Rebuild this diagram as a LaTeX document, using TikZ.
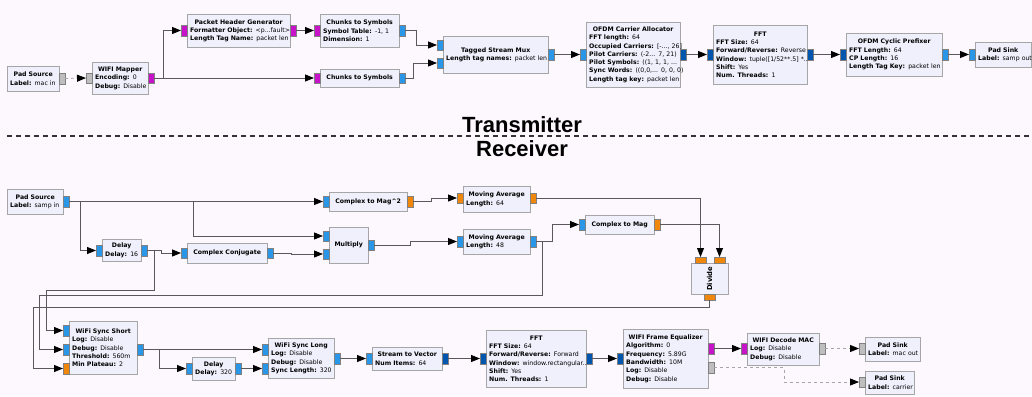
\documentclass[tikz,border=0pt]{standalone}
\usepackage{fontspec}
\setmainfont{DejaVu Sans}
\newfontfamily\headfont{Liberation Sans}
\usetikzlibrary{arrows.meta}
\definecolor{bgc}{RGB}{253,248,253}
\definecolor{blkfill}{RGB}{240,240,253}
\definecolor{cpxc}{RGB}{42,150,232}
\definecolor{vecc}{RGB}{0,85,175}
\definecolor{fltc}{RGB}{240,135,10}
\definecolor{bytc}{RGB}{200,20,200}
\definecolor{msgc}{RGB}{190,190,190}
\newcommand{\hd}[1]{\makebox[\hsize][c]{\bfseries #1}}
\newcommand{\kv}[2]{\mbox{\textbf{#1:} #2}}
\begin{document}
\begin{tikzpicture}[x=1pt, y=-1pt,
    blk/.style={draw=black!35, fill=blkfill, anchor=north west, inner xsep=3pt, inner ysep=0pt, align=left, font=\fontsize{6.2}{8.3}\selectfont},
    pin/.style={draw=black!50, minimum width=6pt, minimum height=10.5pt, inner sep=0pt, outer sep=0pt},
    pcx/.style={pin, fill=cpxc}, pvc/.style={pin, fill=vecc}, pfl/.style={pin, fill=fltc},
    pby/.style={pin, fill=bytc}, pms/.style={pin, fill=msgc},
    wire/.style={draw=black!65, line width=0.8pt, -{Triangle[length=9pt,width=7pt,color=black]}},
    mwire/.style={wire, draw=black!35, dashed}]
        \useasboundingbox (0,0) rectangle (1032,396);
        \fill[bgc] (0,0) rectangle (1032,396);

        \node[blk, text width=46, minimum height=25] (srcT) at (7,66) {\hd{Pad Source}\\\kv{Label}{mac in}};
        \node[blk, text width=50, minimum height=32] (map) at (92,62) {\hd{WIFI Mapper}\\\kv{Encoding}{0}\\\kv{Debug}{Disable}};
        \node[blk, text width=97, minimum height=33] (phg) at (187,14) {\hd{Packet Header Generator}\\\kv{Formatter Object}{<p...fault>}\\\kv{Length Tag Name}{packet len}};
        \node[blk, text width=73, minimum height=33] (cts1) at (320,14) {\hd{Chunks to Symbols}\\\kv{Symbol Table}{-1, 1}\\\kv{Dimension}{1}};
        \node[blk, text width=73, minimum height=18] (cts2) at (320,69) {\hd{Chunks to Symbols}};
        \node[blk, text width=99, minimum height=37] (mux) at (443,36) {\hd{Tagged Stream Mux}\\\kv{Length tag names}{packet len}};
        \node[blk, text width=88, minimum height=65] (alloc) at (586,22) {\hd{OFDM Carrier Allocator}\\\kv{FFT length}{64}\\\kv{Occupied Carriers}{[-..., 26]}\\\kv{Pilot Carriers}{(-2... 7, 21)}\\\kv{Pilot Symbols}{((1, 1, 1, ...}\\\kv{Sync Words}{((0,0,... 0, 0, 0)}\\\kv{Length tag key}{packet len}};
        \node[blk, text width=88, minimum height=59] (fftT) at (713,25) {\hd{FFT}\\\kv{FFT Size}{64}\\\kv{Forward/Reverse}{Reverse}\\\kv{Window}{tuple([1/52**.5] *...}\\\kv{Shift}{Yes}\\\kv{Num. Threads}{1}};
        \node[blk, text width=90, minimum height=43] (cp) at (846,33) {\hd{OFDM Cyclic Prefixer}\\\kv{FFT Length}{64}\\\kv{CP Length}{16}\\\kv{Length Tag Key}{packet len}};
        \node[blk, text width=50, minimum height=25] (snkT) at (975,42) {\hd{Pad Sink}\\\kv{Label}{samp out}};

        \node[pms] (srcTo) at (62,78.5) {};
        \node[pms] (mapi) at (89,78) {};
        \node[pby] (mapo) at (151,78) {};
        \node[pby] (phgi) at (184,30.5) {};
        \node[pby] (phgo) at (293,30.5) {};
        \node[pby] (cts1i) at (317,30.5) {};
        \node[pcx] (cts1o) at (402,30.5) {};
        \node[pby] (cts2i) at (317,78) {};
        \node[pcx] (cts2o) at (402,78) {};
        \node[pcx] (muxi0) at (440,45) {};
        \node[pcx] (muxi1) at (440,63) {};
        \node[pcx] (muxo) at (551,54.5) {};
        \node[pcx] (alloci) at (583,54.5) {};
        \node[pvc] (alloco) at (683,54.5) {};
        \node[pvc] (fftTi) at (710,54.5) {};
        \node[pvc] (fftTo) at (810,54.5) {};
        \node[pvc] (cpi) at (843,54.5) {};
        \node[pcx] (cpo) at (945,54.5) {};
        \node[pcx] (snkTi) at (972,54.5) {};

        \draw[mwire] (srcTo.east) -- (mapi.west);
        \draw[wire] (mapo.east) -- +(9,0) |- (phgi.west);
        \draw[wire] (mapo.east) -- (cts2i.west);
        \draw[wire] (phgo.east) -- (cts1i.west);
        \draw[wire] (cts1o.east) -- +(11,0) |- (muxi0.west);
        \draw[wire] (cts2o.east) -- +(8,0) |- (muxi1.west);
        \draw[wire] (muxo.east) -- (alloci.west);
        \draw[wire] (alloco.east) -- (fftTi.west);
        \draw[wire] (fftTo.east) -- (cpi.west);
        \draw[wire] (cpo.east) -- (snkTi.west);

        \draw[black!80, line width=1.5pt, dash pattern=on 5pt off 4pt] (7,136) -- (1032,136);
        \node[font=\headfont\fontsize{22}{22}\selectfont\bfseries, anchor=base] (tx) at (522,132) {Transmitter};
        \node[font=\headfont\fontsize{22}{22}\selectfont\bfseries, anchor=base] (rx) at (522,156) {Receiver};

        \node[blk, text width=50, minimum height=25] (srcR) at (7,189) {\hd{Pad Source}\\\kv{Label}{samp in}};
        \node[blk, text width=72, minimum height=19] (mag2) at (329,192) {\hd{Complex to Mag\textasciicircum 2}};
        \node[blk, text width=61, minimum height=26] (ma64) at (463,186) {\hd{Moving Average}\\\kv{Length}{64}};
        \node[blk, text width=33, minimum height=22] (dl16) at (102,239) {\hd{Delay}\\\kv{Delay}{16}};
        \node[blk, text width=74, minimum height=20] (cc) at (187,243) {\hd{Complex Conjugate}};
        \node[blk, text width=33, minimum height=36] (mul) at (329,227) {\hd{Multiply}};
        \node[blk, text width=61, minimum height=25] (ma48) at (463,229) {\hd{Moving Average}\\\kv{Length}{48}};
        \node[blk, text width=63, minimum height=19] (mag) at (585,215) {\hd{Complex to Mag}};
        \node[blk, minimum width=37, minimum height=31, label={[rotate=90, font=\fontsize{6.8}{8}\selectfont\bfseries]center:Divide}] (dv) at (691,263) {};
        \node[blk, text width=62, minimum height=53] (ss) at (69,321) {\hd{WiFi Sync Short}\\\kv{Log}{Disable}\\\kv{Debug}{Disable}\\\kv{Threshold}{560m}\\\kv{Min Plateau}{2}};
        \node[blk, text width=37, minimum height=23] (d320) at (192,357) {\hd{Delay}\\\kv{Delay}{320}};
        \node[blk, text width=60, minimum height=40] (sl) at (268,338) {\hd{WiFi Sync Long}\\\kv{Log}{Disable}\\\kv{Debug}{Disable}\\\kv{Sync Length}{320}};
        \node[blk, text width=64, minimum height=23] (s2v) at (372,347) {\hd{Stream to Vector}\\\kv{Num Items}{64}};
        \node[blk, text width=94, minimum height=57] (fftR) at (486,330) {\hd{FFT}\\\kv{FFT Size}{64}\\\kv{Forward/Reverse}{Forward}\\\kv{Window}{window.rectangular...}\\\kv{Shift}{Yes}\\\kv{Num. Threads}{1}};
        \node[blk, text width=79, minimum height=59] (eq) at (623,329) {\hd{WIFI Frame Equalizer}\\\kv{Algorithm}{0}\\\kv{Frequency}{5.89G}\\\kv{Bandwidth}{10M}\\\kv{Log}{Disable}\\\kv{Debug}{Disable}};
        \node[blk, text width=66, minimum height=32] (dec) at (747,333) {\hd{WIFI Decode MAC}\\\kv{Log}{Disable}\\\kv{Debug}{Disable}};
        \node[blk, text width=49, minimum height=24] (snkM) at (865,337) {\hd{Pad Sink}\\\kv{Label}{mac out}};
        \node[blk, text width=43, minimum height=23] (snkC) at (865,371) {\hd{Pad Sink}\\\kv{Label}{carrier}};

        \node[pcx] (srcRo) at (66,201.5) {};
        \node[pcx] (mag2i) at (326,201.5) {};
        \node[pfl] (mag2o) at (410,201.5) {};
        \node[pfl] (ma64i) at (460,198) {};
        \node[pfl] (ma64o) at (533,198) {};
        \node[pcx] (dl16i) at (99,250.5) {};
        \node[pcx] (dl16o) at (144,250.5) {};
        \node[pcx] (cci) at (184,253) {};
        \node[pcx] (cco) at (270,253) {};
        \node[pcx] (muli0) at (326,236) {};
        \node[pcx] (muli1) at (326,254) {};
        \node[pcx] (mulo) at (371,245) {};
        \node[pcx] (ma48i) at (460,241.5) {};
        \node[pcx] (ma48o) at (533,241.5) {};
        \node[pcx] (magi) at (582,224.5) {};
        \node[pfl] (mago) at (657,224.5) {};
        \node[pfl, minimum width=10.5pt, minimum height=6pt] (dvi0) at (700.5,260) {};
        \node[pfl, minimum width=10.5pt, minimum height=6pt] (dvi1) at (719.5,260) {};
        \node[pfl, minimum width=10.5pt, minimum height=6pt] (dvo) at (709.5,297) {};
        \node[pcx] (ssi0) at (66,330.5) {};
        \node[pcx] (ssi1) at (66,349.5) {};
        \node[pfl] (ssi2) at (66,368.5) {};
        \node[pcx] (sso) at (140,349.5) {};
        \node[pcx] (d320i) at (189,368.5) {};
        \node[pcx] (d320o) at (238,368.5) {};
        \node[pcx] (sli0) at (265,349.5) {};
        \node[pcx] (sli1) at (265,368.5) {};
        \node[pcx] (slo) at (337,358.5) {};
        \node[pcx] (s2vi) at (369,358.5) {};
        \node[pvc] (s2vo) at (445,358.5) {};
        \node[pvc] (fftRi) at (483,358.5) {};
        \node[pvc] (fftRo) at (589,358.5) {};
        \node[pvc] (eqi) at (620,358.5) {};
        \node[pby] (eqo0) at (711,348.5) {};
        \node[pms] (eqo1) at (711,367.5) {};
        \node[pby] (deci) at (744,348.5) {};
        \node[pms] (deco) at (822,348.5) {};
        \node[pms] (snkMi) at (862,348.5) {};
        \node[pms] (snkCi) at (862,382) {};

        \draw[wire] (srcRo.east) -- (mag2i.west);
        \draw[wire] (srcRo.east) -- +(124,0) |- (muli0.west);
        \draw[wire] (srcRo.east) -- +(11,0) |- (dl16i.west);
        \draw[wire] (dl16o.east) -- +(14,0) |- (cci.west);
        \draw[wire] (dl16o.east) -- +(7,0) |- (46,290) |- (ssi0.west);
        \draw[wire] (cco.east) -- +(18,0) |- (muli1.west);
        \draw[wire] (mag2o.east) -- +(18,0) |- (ma64i.west);
        \draw[wire] (mulo.east) -- +(36,0) |- (ma48i.west);
        \draw[wire] (ma64o.east) -| (dvi0.north);
        \draw[wire] (ma48o.east) -- +(16,0) |- (magi.west);
        \draw[wire] (ma48o.east) -- +(6,0) |- (39,295) |- (ssi1.west);
        \draw[wire] (mago.east) -| (dvi1.north);
        \draw[wire] (dvo.south) |- (33,307) |- (ssi2.west);
        \draw[wire] (sso.east) -- (sli0.west);
        \draw[wire] (sso.east) -- +(16,0) |- (d320i.west);
        \draw[wire] (d320o.east) -- (sli1.west);
        \draw[wire] (slo.east) -- (s2vi.west);
        \draw[wire] (s2vo.east) -- (fftRi.west);
        \draw[wire] (fftRo.east) -- (eqi.west);
        \draw[wire] (eqo0.east) -- (deci.west);
        \draw[mwire] (eqo1.east) -- +(70,0) |- (snkCi.west);
        \draw[mwire] (deco.east) -- (snkMi.west);
    \end{tikzpicture}
\end{document}
